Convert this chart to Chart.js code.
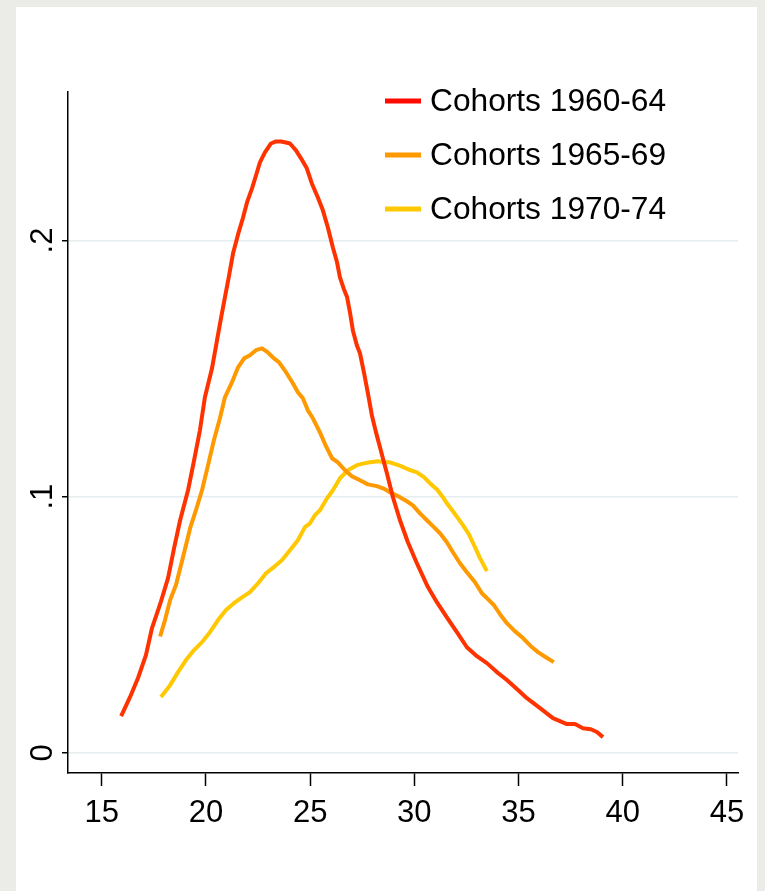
<!DOCTYPE html>
<html>
<head>
<meta charset="utf-8">
<script src="https://cdn.jsdelivr.net/npm/chart.js@4.4.1/dist/chart.umd.min.js"></script>
<style>
    html, body { margin: 0; padding: 0; background: #ebebe7; }
    #panel { position: absolute; left: 16px; top: 7px; width: 741px; height: 884px; background: #ffffff; }
    canvas { display: block; }
</style>
</head>
<body>
<div id="panel"><canvas id="outputChart" width="741" height="884"></canvas></div>
<script>
// Cohort names shown in the legend
const cohorts = ['Cohorts 1960-64', 'Cohorts 1965-69', 'Cohorts 1970-74'];

// Cohorts 1960-64: age and share
const age6064 = [15.93, 16.36, 16.74, 17.12, 17.41, 17.80, 18.18, 18.47, 18.76, 19.14, 19.43, 19.71, 19.95, 20.29, 20.53, 20.72, 20.91, 21.11, 21.30, 21.54,
    21.78, 21.97, 22.21, 22.40, 22.59, 22.83, 23.12, 23.36, 23.60, 23.84, 24.03, 24.32, 24.56, 24.84, 25.08, 25.37, 25.61, 25.85, 26.09, 26.29,
    26.43, 26.62, 26.77, 26.91, 27.05, 27.24, 27.39, 27.58, 27.77, 27.96, 28.16, 28.35, 28.54, 28.68, 28.97, 29.31, 29.69, 30.12, 30.65, 31.08,
    31.56, 32.04, 32.52, 33.00, 33.48, 33.96, 34.44, 34.92, 35.40, 36.03, 36.65, 37.32, 37.71, 38.09, 38.47, 38.76, 39.05];
const share6064 = [0.0143, 0.0218, 0.0292, 0.0381, 0.0487, 0.0580, 0.0682, 0.0799, 0.0908, 0.1025, 0.1142, 0.1259, 0.1388, 0.1501, 0.1610, 0.1696, 0.1778, 0.1864, 0.1950, 0.2024,
    0.2090, 0.2149, 0.2204, 0.2254, 0.2305, 0.2344, 0.2379, 0.2387, 0.2387, 0.2383, 0.2379, 0.2352, 0.2321, 0.2282, 0.2223, 0.2168, 0.2118, 0.2051, 0.1973, 0.1915,
    0.1856, 0.1810, 0.1780, 0.1720, 0.1649, 0.1591, 0.1560, 0.1485, 0.1404, 0.1318, 0.1251, 0.1193, 0.1134, 0.1092, 0.0998, 0.0908, 0.0822, 0.0740, 0.0647, 0.0588,
    0.0529, 0.0471, 0.0412, 0.0377, 0.0350, 0.0315, 0.0284, 0.0249, 0.0213, 0.0174, 0.0135, 0.0112, 0.0112, 0.0096, 0.0092, 0.0081, 0.0061];

// Cohorts 1965-69: age and share
const age6569 = [17.80, 18.04, 18.28, 18.56, 18.80, 19.04, 19.24, 19.52, 19.81, 20.10, 20.38, 20.67, 20.91, 21.25, 21.54, 21.83, 22.11, 22.40, 22.69, 22.97,
    23.26, 23.50, 23.84, 24.17, 24.41, 24.65, 24.89, 25.13, 25.47, 25.76, 26.05, 26.33, 26.67, 27.00, 27.39, 27.77, 28.20, 28.59, 28.83, 29.31,
    29.64, 29.93, 30.27, 30.60, 30.89, 31.23, 31.56, 31.85, 32.19, 32.52, 32.91, 33.24, 33.53, 33.82, 34.11, 34.44, 34.82, 35.21, 35.59, 35.93,
    36.31, 36.69];
const share6569 = [0.0454, 0.0520, 0.0596, 0.0655, 0.0732, 0.0810, 0.0877, 0.0947, 0.1025, 0.1123, 0.1220, 0.1306, 0.1388, 0.1447, 0.1505, 0.1540, 0.1552, 0.1572, 0.1579, 0.1563,
    0.1540, 0.1525, 0.1486, 0.1443, 0.1408, 0.1384, 0.1337, 0.1306, 0.1251, 0.1197, 0.1150, 0.1134, 0.1103, 0.1080, 0.1064, 0.1048, 0.1041, 0.1029, 0.1017, 0.0998,
    0.0982, 0.0966, 0.0935, 0.0908, 0.0885, 0.0857, 0.0822, 0.0783, 0.0740, 0.0705, 0.0666, 0.0623, 0.0600, 0.0576, 0.0541, 0.0506, 0.0475, 0.0448, 0.0416, 0.0393,
    0.0373, 0.0354];

// Cohorts 1970-74: age and share
const age7074 = [17.84, 18.28, 18.66, 19.04, 19.43, 19.81, 20.19, 20.58, 20.96, 21.34, 21.73, 22.11, 22.50, 22.88, 23.26, 23.64, 24.03, 24.41, 24.75, 24.99,
    25.23, 25.47, 25.81, 26.09, 26.43, 26.81, 27.24, 27.58, 27.87, 28.25, 28.59, 28.83, 29.12, 29.36, 29.69, 30.12, 30.46, 30.79, 31.08, 31.37,
    31.56, 31.85, 32.09, 32.33, 32.62, 32.91, 33.15, 33.48];
const share7074 = [0.0218, 0.0264, 0.0315, 0.0362, 0.0401, 0.0432, 0.0471, 0.0518, 0.0557, 0.0584, 0.0607, 0.0627, 0.0662, 0.0701, 0.0725, 0.0752, 0.0791, 0.0830, 0.0881, 0.0896,
    0.0928, 0.0947, 0.0994, 0.1025, 0.1072, 0.1103, 0.1123, 0.1130, 0.1134, 0.1138, 0.1134, 0.1134, 0.1126, 0.1119, 0.1107, 0.1095, 0.1076, 0.1049, 0.1029, 0.0998,
    0.0974, 0.0943, 0.0916, 0.0889, 0.0853, 0.0803, 0.0760, 0.0709];

// Tick values and labels
const xTicks = [15, 20, 25, 30, 35, 40, 45];
const yTicks = [0, 0.1, 0.2];
const yTickLabels = ['0', '.1', '.2'];

const FONT = '"Liberation Sans", Arial, Helvetica, sans-serif';

const toPoints = (xs, ys) => xs.map((x, i) => ({ x: x, y: ys[i] }));

// Stata-style legend and rotated y labels
const extras = {
    id: 'extras',
    afterDraw(chart) {
        const ctx = chart.ctx;
        const yScale = chart.scales.y;
        ctx.save();
        ctx.fillStyle = '#000';
        ctx.font = '31px ' + FONT;
        ctx.textAlign = 'center';
        ctx.textBaseline = 'alphabetic';
        yTicks.forEach((v, i) => {
            ctx.save();
            ctx.translate(36, yScale.getPixelForValue(v));
            ctx.rotate(-Math.PI / 2);
            ctx.fillText(yTickLabels[i], 0, 0);
            ctx.restore();
        });

        ctx.font = '31.7px ' + FONT;
        ctx.textAlign = 'left';
        ctx.textBaseline = 'middle';
        chart.data.datasets.forEach((ds, i) => {
            const y = 94 + i * 54;
            ctx.strokeStyle = ds.keyColor;
            ctx.lineWidth = 5;
            ctx.beginPath();
            ctx.moveTo(369, y);
            ctx.lineTo(405, y);
            ctx.stroke();
            ctx.fillStyle = '#000';
            ctx.fillText(ds.label, 414, y + 1);
        });
        ctx.restore();
    }
};

const ctx = document.getElementById('outputChart').getContext('2d');
window.myChart = new Chart(ctx, {
    type: 'line',
    data: {
        datasets: [{
            label: cohorts[0],
            data: toPoints(age6064, share6064),
            borderColor: '#ff3300',
            keyColor: '#ff0a00'
        }, {
            label: cohorts[1],
            data: toPoints(age6569, share6569),
            borderColor: '#ff9900',
            keyColor: '#ff9900'
        }, {
            label: cohorts[2],
            data: toPoints(age7074, share7074),
            borderColor: '#ffc800',
            keyColor: '#ffc800'
        }]
    },
    options: {
        responsive: false,
        animation: false,
        layout: { padding: { left: 0, right: 19, top: 85, bottom: 0 } },
        elements: {
            point: { radius: 0 },
            line: { borderWidth: 4, tension: 0, borderJoinStyle: 'round', borderCapStyle: 'butt' }
        },
        plugins: {
            legend: { display: false },
            tooltip: { enabled: false }
        },
        scales: {
            x: {
                type: 'linear',
                min: 13.38,
                max: 45.53,
                afterBuildTicks: s => { s.ticks = xTicks.map(v => ({ value: v })); },
                afterFit: s => { s.height = 118; },
                border: { display: true, color: '#000', width: 1.5 },
                grid: { drawOnChartArea: false, drawTicks: true, tickLength: 13, tickColor: '#000', tickWidth: 1.5 },
                ticks: { color: '#000', font: { family: FONT, size: 31 }, padding: 9, maxRotation: 0, autoSkip: false }
            },
            y: {
                type: 'linear',
                min: -0.0079,
                max: 0.258,
                afterBuildTicks: s => { s.ticks = yTicks.map(v => ({ value: v })); },
                afterFit: s => { s.width = 52; },
                border: { display: true, color: '#000', width: 1.5 },
                grid: { color: '#e6edf0', lineWidth: 1.5, drawTicks: true, tickLength: 6, tickColor: '#000', tickWidth: 1.5 },
                ticks: { display: false }
            }
        }
    },
    plugins: [extras]
});
</script>
</body>
</html>
